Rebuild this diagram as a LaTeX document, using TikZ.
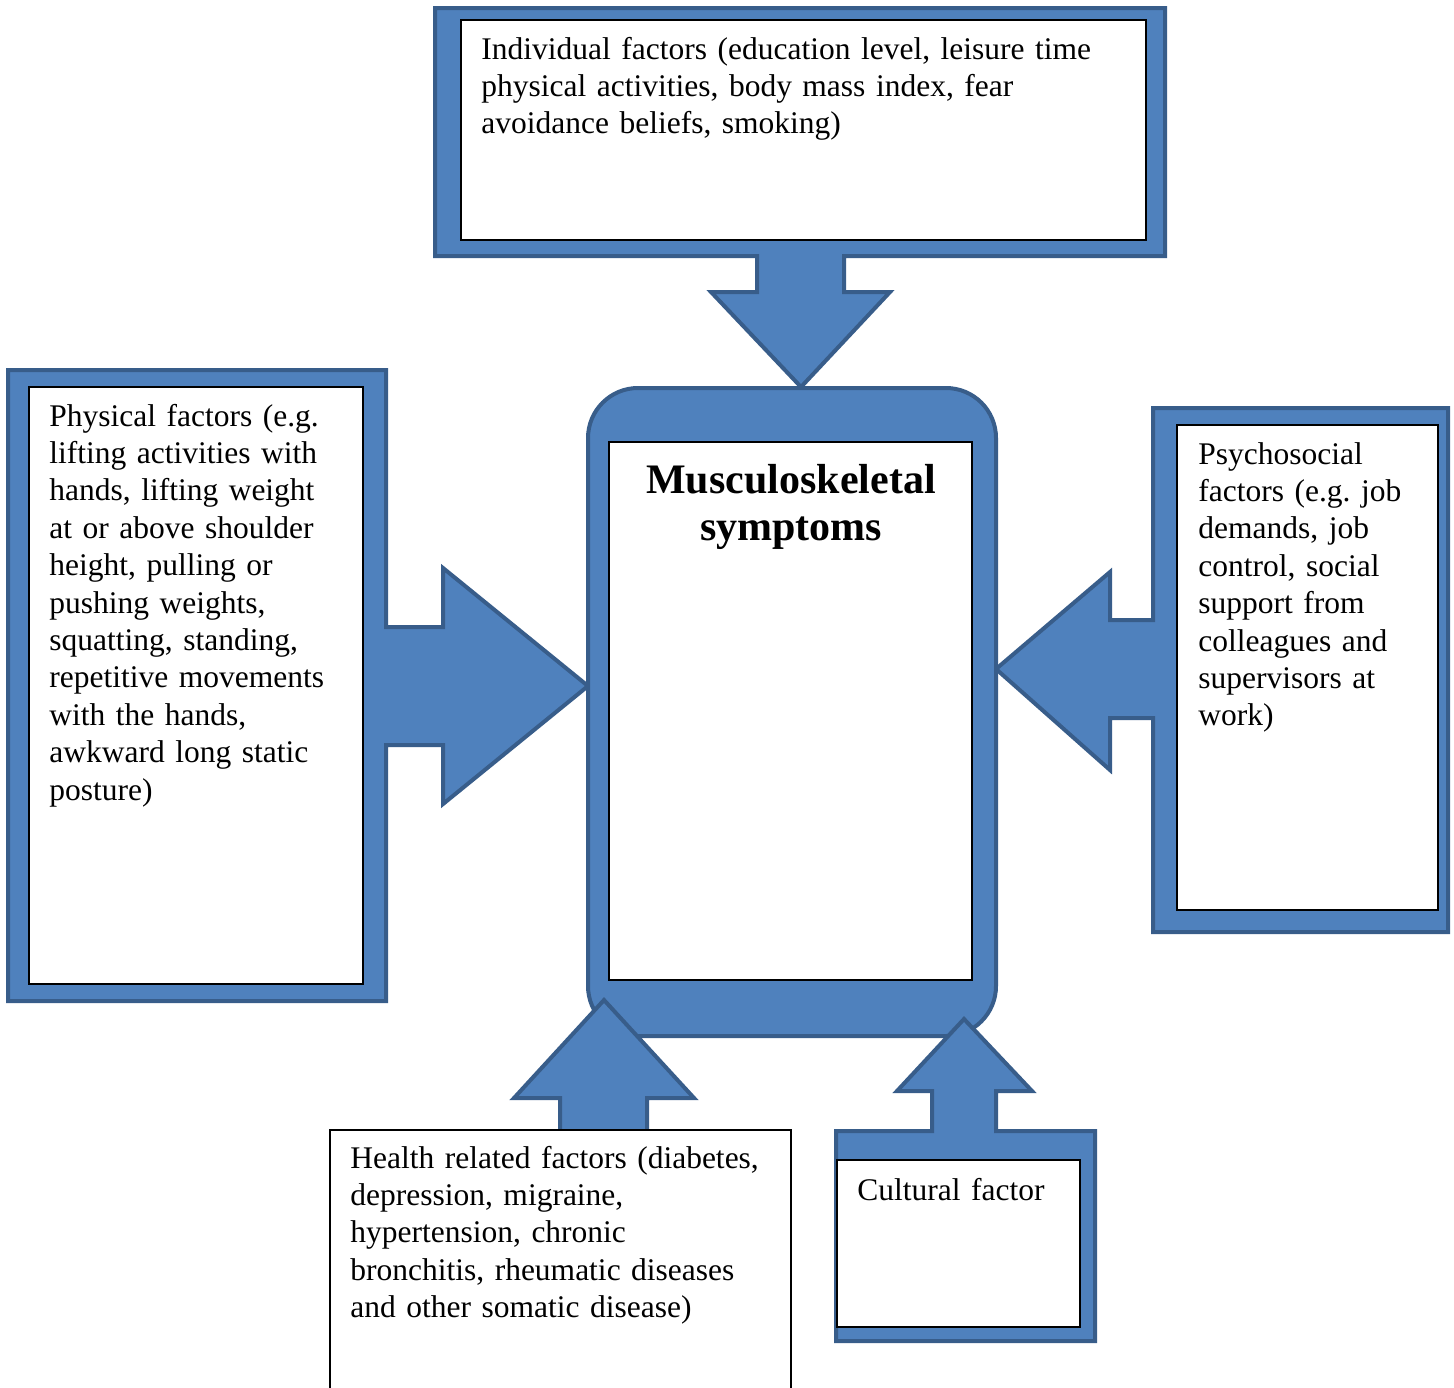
\documentclass[tikz,border=0pt]{standalone}
\usepackage{fontspec}
\setmainfont{Liberation Serif}
\usepackage{xcolor}
\usepackage{tikz}
\usetikzlibrary{positioning}
\definecolor{boxblue}{HTML}{4F81BD}
\definecolor{edgeblue}{HTML}{385D8A}
\frenchspacing

\begin{document}
\begin{tikzpicture}[x=0.5pt, y=-0.5pt,
    callout/.style={fill=boxblue, draw=edgeblue, line width=2pt, line join=miter},
    inbox/.style={fill=white, draw=black, line width=0.7pt},
    factortext/.style={anchor=base west, inner sep=0pt, align=left, text width=360pt,
        font=\fontsize{15.75}{18.7}\selectfont},
    titletext/.style={anchor=base, inner sep=0pt, align=center, text width=180pt,
        font=\fontsize{21}{23.5}\selectfont\bfseries}]

\useasboundingbox (0,0) rectangle (1454,1387);
\clip (0,0) rectangle (1454,1387);
\fill[white] (0,0) rectangle (1454,1387);

\draw[callout] (435,8) -- (1165,8) -- (1165,256) -- (844,256) -- (844,292) -- (890,292)
    -- (801,387) -- (711,292) -- (757,292) -- (757,256) -- (435,256) -- cycle;
\draw[callout] (8,370) -- (386,370) -- (386,627) -- (443,627) -- (443,568) -- (588,686)
    -- (443,804) -- (443,745) -- (386,745) -- (386,1001) -- (8,1001) -- cycle;
\draw[callout] (1153,408) -- (1448,408) -- (1448,932) -- (1153,932) -- (1153,718) -- (1110,718)
    -- (1110,770) -- (996,669) -- (1110,572) -- (1110,620) -- (1153,620) -- cycle;
\draw[callout, rounded corners=25pt] (588,388) rectangle (996,1036);
\draw[callout] (560,1135) -- (560,1098) -- (514,1098) -- (604,1000) -- (694,1098)
    -- (647,1098) -- (647,1135) -- cycle;
\draw[callout] (836,1131) -- (932,1131) -- (932,1091) -- (897,1091) -- (964,1019) -- (1032,1091)
    -- (996,1091) -- (996,1131) -- (1095,1131) -- (1095,1341) -- (836,1341) -- cycle;

\draw[inbox] (461,20) rectangle (1146,240);
\draw[inbox] (29,387) rectangle (363,984);
\draw[inbox] (1177,425) rectangle (1438,910);
\draw[inbox] (609,442) rectangle (972,980);
\draw[inbox] (330,1130) rectangle (791,1400);
\draw[inbox] (837,1160) rectangle (1080,1327);

\node[factortext] (individual) at (481,59) {Individual factors (education level, leisure time\\
    physical activities, body mass index, fear\\ avoidance beliefs, smoking)};
\node[factortext] (physical) at (49,426) {Physical factors (e.g.\\
    lifting activities with\\ hands, lifting weight\\ at or above shoulder\\ height, pulling or\\
    pushing weights,\\ squatting, standing,\\ repetitive movements\\ with the hands,\\
    awkward long static\\ posture)};
\node[factortext] (psychosocial) at (1198,464) {Psychosocial\\ factors (e.g. job\\ demands, job\\
    control, social\\ support from\\ colleagues and\\ supervisors at\\ work)};
\node[factortext] (health) at (350,1168) {Health related factors (diabetes,\\ depression, migraine,\\
    hypertension, chronic\\ bronchitis, rheumatic diseases\\ and other somatic disease)};
\node[factortext] (cultural) at (857,1200) {Cultural factor};
\node[titletext] (symptoms) at (791,493) {Musculoskeletal\\ symptoms};
\end{tikzpicture}
\end{document}
